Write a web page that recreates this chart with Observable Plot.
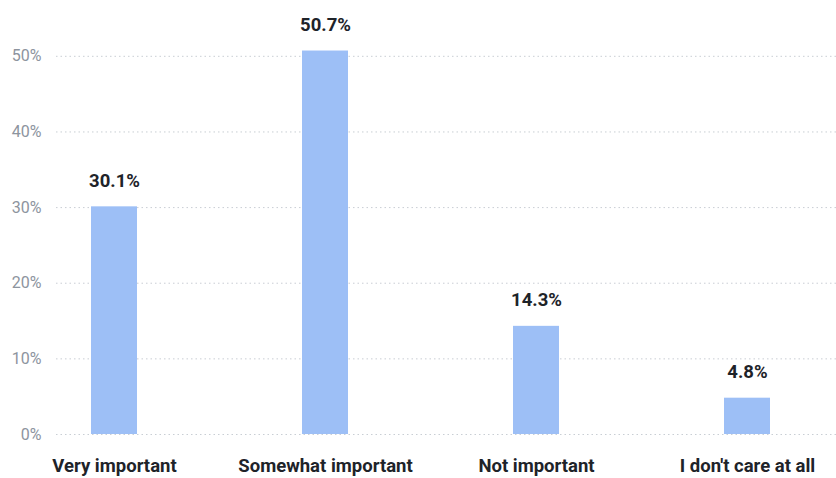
<!DOCTYPE html>
<html>
<head>
<meta charset="utf-8">
<script src="https://cdn.jsdelivr.net/npm/d3@7"></script>
<script src="https://cdn.jsdelivr.net/npm/@observablehq/plot@0.6"></script>
<style>
  html, body { margin: 0; padding: 0; background: #fff; }
  #chart svg { display: block; }
</style>
</head>
<body>
<div id="chart"></div>
<script>
const categories = ["Very important", "Somewhat important", "Not important", "I don't care at all"];
const values = [30.1, 50.7, 14.3, 4.8];
const yTicks = [0, 10, 20, 30, 40, 50];

const data = categories.map((c, i) => ({category: c, value: values[i]}));

const chart = Plot.plot({
  width: 836,
  height: 478,
  marginLeft: 56,
  marginRight: 0,
  marginTop: 18,
  marginBottom: 44,
  style: {fontFamily: "Roboto, sans-serif", background: "#fff"},
  x: {domain: categories, paddingInner: 0.783, paddingOuter: 0.234, align: 0.343, label: null},
  y: {domain: [0, 55], label: null},
  marks: [
    Plot.gridY(yTicks, {stroke: "#c9ced4", strokeOpacity: 1, strokeDasharray: "1.5,3"}),
    Plot.axisY(yTicks, {tickSize: 0, tickPadding: 15, tickFormat: d => d + "%", fill: "#8d949e", fontSize: 16, label: null}),
    Plot.axisX({tickSize: 0, tickPadding: 24, fill: "#1e2329", fontSize: 18.5, fontWeight: "bold", label: null}),
    Plot.barY(data, {x: "category", y: "value", fill: "#9dbff6"}),
    Plot.text(data, {x: "category", y: "value", text: d => d.value.toFixed(1) + "%", dy: -20, lineAnchor: "bottom", fill: "#1e2329", fontSize: 18.5, fontWeight: "bold"})
  ]
});
document.getElementById("chart").appendChild(chart);
</script>
</body>
</html>
